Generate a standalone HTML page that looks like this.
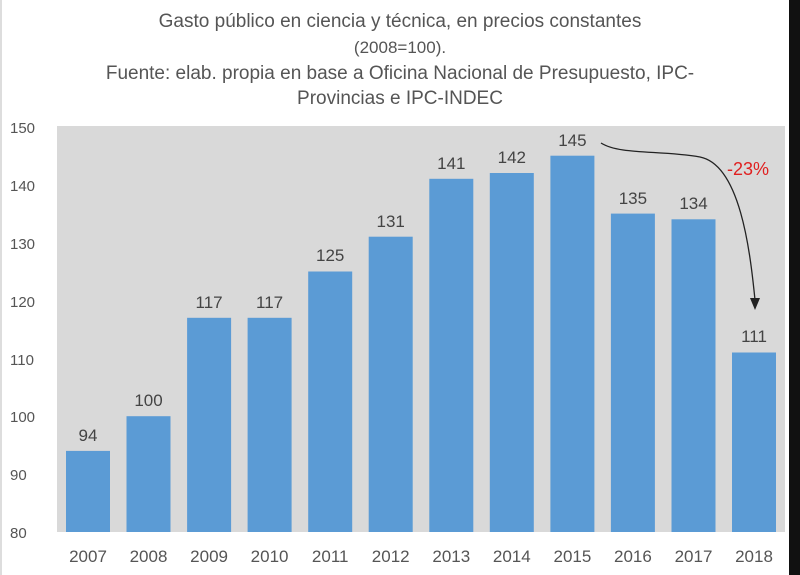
<!DOCTYPE html>
<html><head><meta charset="utf-8"><style>
body{margin:0;background:#fff;}
svg{display:block;font-family:"Liberation Sans Narrow","Liberation Sans",sans-serif;}
</style></head><body>
<svg width="800" height="575" viewBox="0 0 800 575">
<rect x="0" y="0" width="800" height="575" fill="#fff"/>
<rect x="789" y="0" width="11" height="575" fill="#111"/>
<rect x="0" y="0" width="2" height="575" fill="#ddd"/>
<rect x="57" y="126" width="728" height="406" fill="#d9d9d9"/>
<g fill="#555" font-size="19" text-anchor="middle">
<text x="400" y="27">Gasto público en ciencia y técnica, en precios constantes</text>
<text x="400" y="53" font-size="17">(2008=100).</text>
<text x="400" y="79">Fuente: elab. propia en base a Oficina Nacional de Presupuesto, IPC-</text>
<text x="400" y="104">Provincias e IPC-INDEC</text>
</g>
<g fill="#555" font-size="15">
<text x="10" y="133">150</text><text x="10" y="191">140</text><text x="10" y="249">130</text>
<text x="10" y="307">120</text><text x="10" y="365">110</text><text x="10" y="422">100</text>
<text x="10" y="480">90</text><text x="10" y="538">80</text>
</g>
<g fill="#5b9bd5">
<rect x="66" y="450.9" width="44" height="81.1"/>
<rect x="126.5" y="416.2" width="44" height="115.8"/>
<rect x="187.1" y="317.8" width="44" height="214.2"/>
<rect x="247.6" y="317.8" width="44" height="214.2"/>
<rect x="308.2" y="271.5" width="44" height="260.5"/>
<rect x="368.7" y="236.7" width="44" height="295.3"/>
<rect x="429.3" y="178.8" width="44" height="353.2"/>
<rect x="489.8" y="173" width="44" height="359"/>
<rect x="550.4" y="155.7" width="44" height="376.3"/>
<rect x="610.9" y="213.6" width="44" height="318.4"/>
<rect x="671.5" y="219.3" width="44" height="312.7"/>
<rect x="732" y="352.5" width="44" height="179.5"/>
</g>
<g fill="#444" font-size="17" text-anchor="middle">
<text x="88" y="441">94</text>
<text x="148.5" y="406">100</text>
<text x="209.1" y="308">117</text>
<text x="269.6" y="308">117</text>
<text x="330.2" y="261">125</text>
<text x="390.7" y="227">131</text>
<text x="451.3" y="169">141</text>
<text x="511.8" y="163">142</text>
<text x="572.4" y="146">145</text>
<text x="632.9" y="204">135</text>
<text x="693.5" y="209">134</text>
<text x="754" y="342">111</text>
</g>
<g fill="#555" font-size="17" text-anchor="middle">
<text x="88" y="562">2007</text>
<text x="148.5" y="562">2008</text>
<text x="209.1" y="562">2009</text>
<text x="269.6" y="562">2010</text>
<text x="330.2" y="562">2011</text>
<text x="390.7" y="562">2012</text>
<text x="451.3" y="562">2013</text>
<text x="511.8" y="562">2014</text>
<text x="572.4" y="562">2015</text>
<text x="632.9" y="562">2016</text>
<text x="693.5" y="562">2017</text>
<text x="754" y="562">2018</text>
</g>
<path d="M601,143 C620,155 660,150 700,157 C740,165 750,250 755,300" fill="none" stroke="#222" stroke-width="1.3"/>
<polygon points="750,298 760,298 755,310" fill="#222"/>
<text x="748" y="175" fill="#e02020" font-size="18" text-anchor="middle">-23%</text>
</svg>
</body></html>
